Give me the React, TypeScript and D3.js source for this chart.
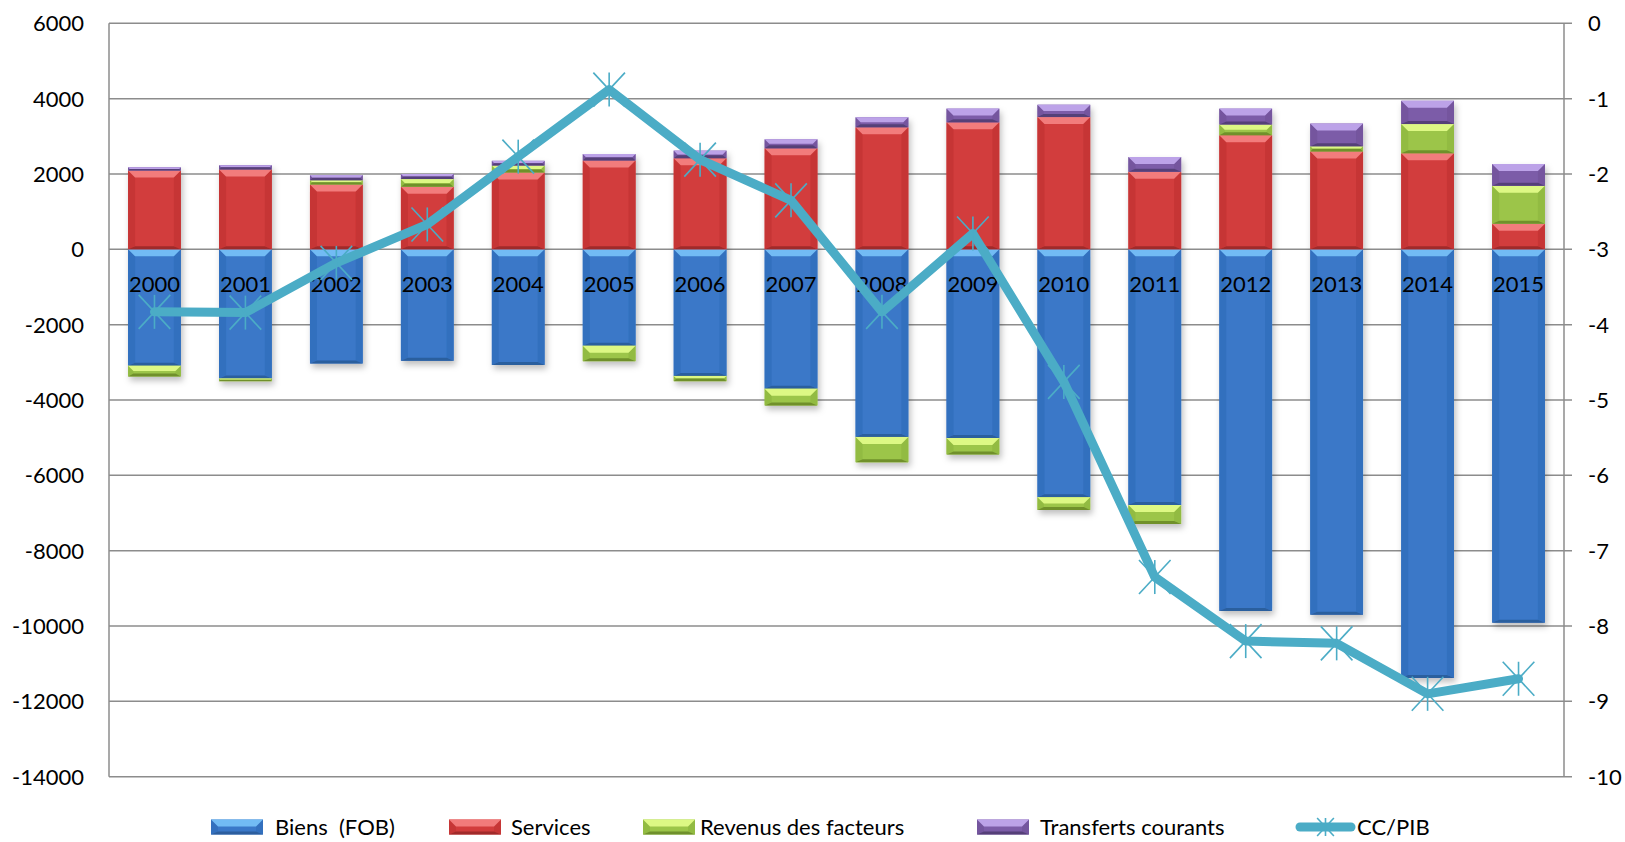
import React from 'react';
import * as d3 from 'd3';

const years = ['2000','2001','2002','2003','2004','2005','2006','2007','2008','2009','2010','2011','2012','2013','2014','2015'];
const biens = [-3090,-3430,-3030,-2960,-3070,-2560,-3360,-3700,-4980,-5010,-6580,-6790,-9600,-9700,-11380,-9910];
const services = [2090,2120,1720,1660,2040,2360,2420,2680,3240,3370,3510,2060,3030,2600,2550,680];
const revenus = [-285,-70,115,205,185,-410,-140,-445,-675,-435,-340,-500,285,135,775,1005];
const transferts = [90,115,135,135,125,170,200,240,265,365,330,390,420,605,620,580];
const ccpib = [-3.83,-3.84,-3.18,-2.67,-1.77,-0.88,-1.81,-2.35,-3.83,-2.79,-4.76,-7.35,-8.2,-8.23,-8.9,-8.7];
const leftTicks = [6000,4000,2000,0,-2000,-4000,-6000,-8000,-10000,-12000,-14000];
const rightTicks = [0,-1,-2,-3,-4,-5,-6,-7,-8,-9,-10];

const seriesNames = ['Biens\u00A0 (FOB)','Services','Revenus des facteurs','Transferts courants'];
const seriesKeys = ['biens','services','revenus','transferts'];
const palette = [
  { base: '#3A78C8', light: '#72BBF4', dark: '#2C5E9E', side: '#3370BE' },
  { base: '#D23C3C', light: '#F27B7B', dark: '#A02A2A', side: '#C63636' },
  { base: '#9CC548', light: '#DDF884', dark: '#6F902C', side: '#92BB42' },
  { base: '#7C5CA8', light: '#BCA2E8', dark: '#553F78', side: '#74559E' },
];
const lineColor = '#4BACC6';
const FONT = 'Lato, "Open Sans", sans-serif';

const W = 1625, H = 842;
const L = 109, R = 1564, T = 23.3, B = 776.7;

function Seg({ x, y, w, h, c }: { x: number; y: number; w: number; h: number; c: typeof palette[0] }) {
  if (h < 0.5) return null;
  const b = Math.min(7, h / 2);
  const bb = Math.min(3, h / 2);
  return (
    <g>
      <rect x={x} y={y} width={w} height={h} fill={c.base} />
      <polygon points={`${x},${y} ${x + b},${y + b} ${x + b},${y + h - bb} ${x},${y + h}`} fill={c.side} />
      <polygon points={`${x + w},${y} ${x + w - b},${y + b} ${x + w - b},${y + h - bb} ${x + w},${y + h}`} fill={c.side} />
      <polygon points={`${x},${y} ${x + w},${y} ${x + w - b},${y + b} ${x + b},${y + b}`} fill={c.light} />
      <polygon points={`${x},${y + h} ${x + w},${y + h} ${x + w - b},${y + h - bb} ${x + b},${y + h - bb}`} fill={c.dark} />
    </g>
  );
}

function Star({ cx, cy, s }: { cx: number; cy: number; s: number }) {
  const r = s / 2;
  const d = r * 0.93;
  return (
    <g stroke={lineColor} strokeWidth={1.6}>
      <line x1={cx} y1={cy - r} x2={cx} y2={cy + r} />
      <line x1={cx - d} y1={cy - r} x2={cx + d} y2={cy + r} />
      <line x1={cx + d} y1={cy - r} x2={cx - d} y2={cy + r} />
    </g>
  );
}

export default function App() {
  const x = d3.scaleBand<string>().domain(years).range([L, R]).paddingInner(0.42).paddingOuter(0.21);
  const y = d3.scaleLinear().domain([-14000, 6000]).range([B, T]);
  const y2 = d3.scaleLinear().domain([-10, 0]).range([B, T]);

  const table = years.map((yr, i) => ({
    year: yr,
    biens: biens[i],
    services: services[i],
    revenus: revenus[i],
    transferts: transferts[i],
  }));
  const stack = d3.stack<any>().keys(seriesKeys).offset(d3.stackOffsetDiverging);
  const layers = stack(table);

  const line = d3.line<number>()
    .x((_, i) => (x(years[i]) as number) + x.bandwidth() / 2)
    .y((v) => y2(v));

  const legendItems = [
    { sx: 211, tx: 275 },
    { sx: 449, tx: 511 },
    { sx: 643, tx: 700 },
    { sx: 977, tx: 1040 },
  ];
  const legendY = 827;

  return (
    <svg width={W} height={H} style={{ position: 'absolute', left: 0, top: 0, background: '#fff' }} fontFamily={FONT}>
      <defs>
        <filter id="sh" x="-20%" y="-20%" width="140%" height="140%">
          <feDropShadow dx="2" dy="4" stdDeviation="3" floodColor="#000" floodOpacity="0.25" />
        </filter>
      </defs>
      {leftTicks.map((t) => (
        <line key={t} x1={L} x2={R + 8} y1={y(t)} y2={y(t)} stroke="#8C8C8C" strokeWidth={1.5} />
      ))}
      <line x1={L} x2={L} y1={T} y2={B} stroke="#8C8C8C" strokeWidth={1.5} />
      <line x1={R} x2={R} y1={T} y2={B} stroke="#8C8C8C" strokeWidth={1.5} />
      {leftTicks.map((t) => (
        <text key={t} x={84} y={y(t)} dy="0.36em" textAnchor="end" fontSize={22} fill="#000">{t}</text>
      ))}
      {rightTicks.map((t) => (
        <text key={t} x={1588} y={y2(t)} dy="0.36em" textAnchor="start" fontSize={22} fill="#000">{t}</text>
      ))}
      <g filter="url(#sh)">
        {layers.map((layer, li) => (
          <g key={li}>
            {layer.map((d: any, i: number) => {
              const y0 = y(Math.max(d[0], d[1]));
              const y1 = y(Math.min(d[0], d[1]));
              return (
                <Seg key={i} x={x(years[i]) as number} y={y0} w={x.bandwidth()} h={y1 - y0} c={palette[li]} />
              );
            })}
          </g>
        ))}
      </g>
      {years.map((yr) => (
        <text key={yr} x={(x(yr) as number) + x.bandwidth() / 2} y={284} dy="0.36em" textAnchor="middle" fontSize={22} fill="#000">{yr}</text>
      ))}
      <path d={line(ccpib) || ''} fill="none" stroke={lineColor} strokeWidth={9} strokeLinejoin="round" strokeLinecap="round" />
      {ccpib.map((v, i) => (
        <Star key={i} cx={(x(years[i]) as number) + x.bandwidth() / 2} cy={y2(v)} s={34} />
      ))}
      {legendItems.map((it, i) => (
        <g key={i}>
          <Seg x={it.sx} y={legendY - 7.5} w={52} h={15} c={palette[i]} />
          <text x={it.tx} y={legendY} dy="0.36em" fontSize={22} fill="#000">{seriesNames[i]}</text>
        </g>
      ))}
      <g>
        <line x1={1300} x2={1351} y1={legendY} y2={legendY} stroke={lineColor} strokeWidth={9} strokeLinecap="round" />
        <Star cx={1325.5} cy={legendY} s={18} />
        <text x={1357} y={legendY} dy="0.36em" fontSize={22} fill="#000">CC/PIB</text>
      </g>
    </svg>
  );
}
